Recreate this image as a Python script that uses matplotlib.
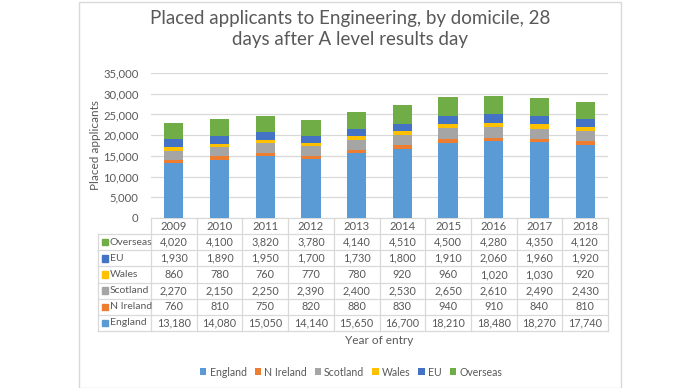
import matplotlib
matplotlib.use("Agg")
import matplotlib.pyplot as plt
from matplotlib.patches import Rectangle, Patch
from matplotlib.ticker import StrMethodFormatter

plt.rcParams["font.family"] = ["Lato", "DejaVu Sans"]

years = ["2009", "2010", "2011", "2012", "2013", "2014", "2015", "2016", "2017", "2018"]
england = [13180, 14080, 15050, 14140, 15650, 16700, 18210, 18480, 18270, 17740]
n_ireland = [760, 810, 750, 820, 880, 830, 940, 910, 840, 810]
scotland = [2270, 2150, 2250, 2390, 2400, 2530, 2650, 2610, 2490, 2430]
wales = [860, 780, 760, 770, 780, 920, 960, 1020, 1030, 920]
eu = [1930, 1890, 1950, 1700, 1730, 1800, 1910, 2060, 1960, 1920]
overseas = [4020, 4100, 3820, 3780, 4140, 4510, 4500, 4280, 4350, 4120]

series = [
    ("England", england, "#5B9BD5"),
    ("N Ireland", n_ireland, "#ED7D31"),
    ("Scotland", scotland, "#A5A5A5"),
    ("Wales", wales, "#FFC000"),
    ("EU", eu, "#4472C4"),
    ("Overseas", overseas, "#70AD47"),
]

W, H = 700, 388
txt = "#595959"
grid = "#D9D9D9"
fs = 7.8

fig = plt.figure(figsize=(W / 100, H / 100), dpi=100)

# outer chart frame
fig.patches.append(Rectangle((79 / W, 0.5 / H), 542 / W, 386 / H, transform=fig.transFigure,
                             fill=False, edgecolor=grid, linewidth=1))

fig.text(350 / W, 1 - 29 / H, "Placed applicants to Engineering, by domicile, 28\ndays after A level results day",
         ha="center", va="center", fontsize=13.5, color=txt, linespacing=1.3)

# bar area
px_l, px_r, px_top, px_bot = 151, 608, 73, 218
ax = fig.add_axes([px_l / W, 1 - px_bot / H, (px_r - px_l) / W, (px_bot - px_top) / H])
x = list(range(len(years)))
bottom = [0] * len(years)
for name, vals, col in series:
    ax.bar(x, vals, 0.42, bottom=bottom, color=col, zorder=3)
    bottom = [b + v for b, v in zip(bottom, vals)]
ax.set_xlim(-0.5, len(years) - 0.5)
ax.set_ylim(0, 35000)
ax.set_yticks(range(0, 35001, 5000))
ax.yaxis.set_major_formatter(StrMethodFormatter("{x:,.0f}"))
ax.tick_params(axis="y", length=0, labelsize=fs + 0.3, labelcolor=txt, pad=9)
ax.set_xticks([])
ax.grid(axis="y", color=grid, linewidth=0.9, zorder=0)
for s in ["top", "right", "left"]:
    ax.spines[s].set_visible(False)
ax.spines["bottom"].set_color(grid)
ax.set_ylabel("Placed applicants", fontsize=fs + 0.7, color=txt)
ax.yaxis.set_label_coords((101 - px_l) / (px_r - px_l), 0.5)

# data table
col_w = (px_r - px_l) / len(years)
key_w = (px_l - 98) / col_w
tab_top, tab_bot = 218, 331
tax = fig.add_axes([98 / W, 1 - tab_bot / H, (px_r - 98) / W, (tab_bot - tab_top) / H])
tax.set_xlim(-key_w, len(years))
nrows = len(series) + 1
tax.set_ylim(0, nrows)
tax.axis("off")
lw = 0.9
for r in range(nrows):
    tax.plot([-key_w, len(years)], [r, r], color=grid, lw=lw, clip_on=False)
for c in range(len(years) + 1):
    tax.plot([c, c], [0, nrows], color=grid, lw=lw, clip_on=False)
tax.plot([-key_w, -key_w], [0, nrows - 1], color=grid, lw=lw, clip_on=False)
for i, yr in enumerate(years):
    tax.text(i + 0.5, nrows - 0.5, yr, ha="center", va="center", fontsize=fs + 0.3, color=txt)
for k, (name, vals, col) in enumerate(series):
    yc = k + 0.5
    tax.add_patch(Rectangle((-key_w + 0.09, yc - 0.2), 0.13, 0.4, color=col, clip_on=False))
    tax.text(-key_w + 0.26, yc, name, ha="left", va="center", fontsize=fs - 0.3, color=txt)
    for i, v in enumerate(vals):
        tax.text(i + 0.5, yc, f"{v:,}", ha="center", va="center", fontsize=fs, color=txt)

fig.text((px_l + px_r) / 2 / W, 1 - 341 / H, "Year of entry", ha="center", va="center",
         fontsize=fs + 0.7, color=txt)

handles = [Patch(facecolor=col, label=name) for name, vals, col in series]
fig.legend(handles=handles, loc="center", bbox_to_anchor=(351 / W, 1 - 372 / H), ncol=6,
           frameon=False, fontsize=fs - 0.2, labelcolor=txt, handlelength=0.6, handleheight=0.6,
           handletextpad=0.3, columnspacing=0.75)

fig.savefig("out.png", dpi=100)
